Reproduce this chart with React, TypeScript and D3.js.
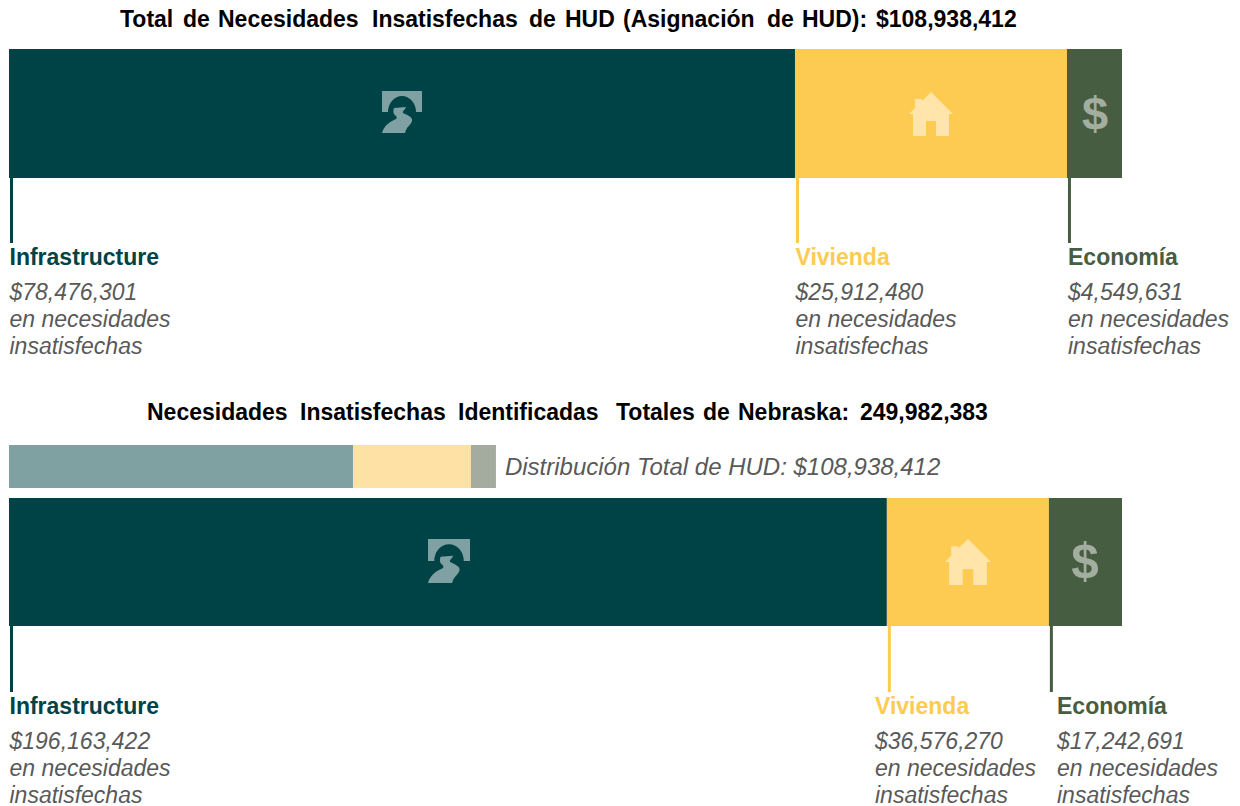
import React from "react";
import * as d3 from "d3";

// labels quoted in the picture
const categories = ["Infrastructure", "Vivienda", "Economía"];
const hudLabels = ["$78,476,301", "$25,912,480", "$4,549,631"];
const nebraskaLabels = ["$196,163,422", "$36,576,270", "$17,242,691"];

const title1Words = ["Total", "de", "Necesidades", "Insatisfechas", "de", "HUD", "(Asignación", "de", "HUD):", "$108,938,412"];
const title2Words = ["Necesidades", "Insatisfechas", "Identificadas", "Totales", "de", "Nebraska:", "249,982,383"];

// bar lengths (they sit slightly off the printed labels)
const hudBarValues = [76930000, 26620000, 5388412];
const nebraskaBarValues = [197170000, 36390000, 16422383];
const hudInNebraskaValues = [77260000, 26500000, 5610000];

const hudTotal = 108938412;
const nebraskaTotal = 249982383;

const colors = ["#004346", "#FECB52", "#475D41"];
const paleColors = ["#80A1A2", "#FDE1A5", "#A3AC9F"];
const textColor = "#595959";
const FONT = "'Liberation Sans', Arial, sans-serif";

// the titles have uneven word gaps in the original
const title1X = [120, 183, 218, 372, 529, 565, 623, 767, 802, 876];
const title2X = [147, 300, 458, 616, 703, 738, 860];

const ROAD_ARCH = "M-20,-22H20V-1H14A14,16 0 0 0 -14,-1H-20Z";
const ROAD = "M-8,-5L4,-6C3,-3 0,-2 1,0C5,2 11,4 10,8C9,12 4,14 3,20H-20C-18,13 -13,9 -6,6C-5,5 -5,4 -6,3C-9,1 -9,-2 -8,-5Z";
const HOUSE = "M0,-22L22,0H18V22H5V7H-5V22H-18V0H-22L-16,-6V-15H-9V-13Z";

function stackOf(values: number[]) {
  let acc = 0;
  return values.map((v) => {
    const seg = { x0: acc, x1: acc + v };
    acc += v;
    return seg;
  });
}

function Bar({ values, domain, fill, y, h }: any) {
  const x = d3.scaleLinear().domain([0, domain]).range([9, 1122]);
  return (
    <g>
      {stackOf(values).map((s, i) => (
        <rect key={i} x={x(s.x0)} y={y} width={x(s.x1) - x(s.x0)} height={h} fill={fill[i]} />
      ))}
    </g>
  );
}

function Title({ words, xs, y }: any) {
  return (
    <text y={y} fontFamily={FONT} fontSize={23} fontWeight="bold" fill="#000">
      {words.map((w: string, i: number) => (
        <tspan key={i} x={xs[i]}>{w}</tspan>
      ))}
    </text>
  );
}

function Callout({ lineX, textX, top, bottom, labelY, i, amount }: any) {
  return (
    <g fontFamily={FONT}>
      <line x1={lineX} x2={lineX} y1={top} y2={bottom} stroke={colors[i]} strokeWidth={3} />
      <text x={textX} y={labelY + 0.5} fontSize={23} fontWeight="bold" fill={colors[i]}>
        {categories[i]}
      </text>
      <g fontSize={23} fontStyle="italic" fill={textColor}>
        <text x={textX} y={labelY + 36}>{amount}</text>
        <text x={textX} y={labelY + 63}>en necesidades</text>
        <text x={textX} y={labelY + 90}>insatisfechas</text>
      </g>
    </g>
  );
}

function Icons({ road, roadY, house, dollar, cy, k }: any) {
  return (
    <g fill="#fff">
      <g transform={`translate(${road},${roadY}) scale(${k})`} opacity={0.5}>
        <path d={ROAD_ARCH} />
        <path d={ROAD} />
      </g>
      <path d={HOUSE} transform={`translate(${house},${cy}) scale(${k})`} opacity={0.5} />
      <text x={dollar} y={cy + 16} textAnchor="middle" fontFamily={FONT} fontWeight="bold" fontSize={47 * k} opacity={0.5}>
        $
      </text>
    </g>
  );
}

export default function App() {
  const topX = d3.scaleLinear().domain([0, hudTotal]).range([9, 1122]);
  const botX = d3.scaleLinear().domain([0, nebraskaTotal]).range([9, 1122]);
  const topStack = stackOf(hudBarValues);
  const botStack = stackOf(nebraskaBarValues);
  const smallEnd = botX(d3.sum(hudInNebraskaValues));

  return (
    <svg width={1240} height={806} style={{ position: "absolute", left: 0, top: 0 }}>
      <Title words={title1Words} xs={title1X} y={27} />
      <Bar values={hudBarValues} domain={hudTotal} fill={colors} y={49} h={129} />
      <Icons road={402} roadY={113} house={931} dollar={1095} cy={114} k={1} />
      {categories.map((_, i) => (
        <Callout
          key={i}
          i={i}
          lineX={topX(topStack[i].x0) + 2.5}
          textX={[9.5, 795.5, 1068][i]}
          top={178}
          bottom={243}
          labelY={264}
          amount={hudLabels[i]}
        />
      ))}

      <Title words={title2Words} xs={title2X} y={420} />
      <Bar values={hudInNebraskaValues} domain={nebraskaTotal} fill={paleColors} y={445} h={43} />
      <text x={smallEnd + 9} y={475} fontFamily={FONT} fontSize={24} fontStyle="italic" fill={textColor}>
        Distribución Total de HUD: $108,938,412
      </text>
      <Bar values={nebraskaBarValues} domain={nebraskaTotal} fill={colors} y={498} h={128} />
      <Icons road={449} roadY={562} house={968} dollar={1085} cy={562} k={1.05} />
      {categories.map((_, i) => (
        <Callout
          key={i}
          i={i}
          lineX={botX(botStack[i].x0) + 2.5}
          textX={[9.5, 875, 1057][i]}
          top={626}
          bottom={692}
          labelY={713}
          amount={nebraskaLabels[i]}
        />
      ))}
    </svg>
  );
}
